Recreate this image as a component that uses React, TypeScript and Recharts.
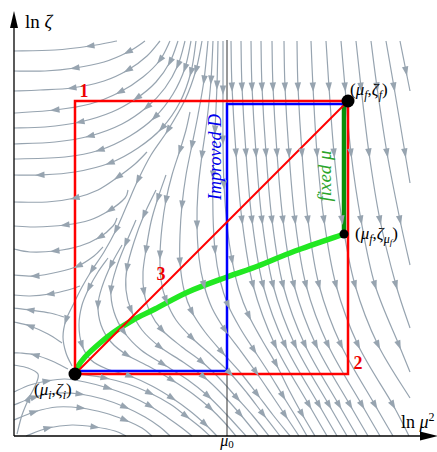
import React from 'react'
import { ComposedChart, Line, XAxis, YAxis } from 'recharts'

type Pt = [number, number]

// x: ln mu^2, y: ln zeta (arbitrary units)
const X_END = 437
const Y_END = 426
const MU0 = 227

const pointI: Pt = [75, 62]
const pointF: Pt = [348, 335]
const pointZetaMu: Pt = [344, 202]

const path1: Pt[] = [[75, 62], [75, 335], [348, 335]]
const path2: Pt[] = [[75, 62], [348, 62], [348, 335]]
const path3: Pt[] = [[75, 62], [348, 335]]
const improvedD: Pt[] = [[75, 65], [227, 65], [227, 332], [346, 332]]
const zetaMuLine: Pt[] = [[75, 62], [77, 68], [85, 79], [100, 93], [114, 104], [133, 116], [155, 127], [188, 144], [227, 159], [258, 170], [295, 185], [344, 202]]
const fixedMu: Pt[] = [[344, 202], [344, 333]]
const mu0Line: Pt[] = [[MU0, 0], [MU0, 396]]

// flow lines, top-left family (run to the left axis)
const streamsTop: Pt[][] = [
  [[117, 395], [90, 390], [55, 386], [14, 385]],
  [[145, 395], [128, 384], [104, 374], [75, 368], [45, 365], [14, 365]],
  [[160, 395], [147, 380], [128, 366], [104, 355], [72, 348], [40, 346], [14, 345]],
  [[170, 395], [160, 376], [143, 359], [120, 344], [90, 332], [55, 326], [14, 323]],
  [[178, 395], [170, 374], [156, 354], [137, 338], [112, 324], [80, 314], [45, 309], [14, 308]],
  [[185, 395], [178, 371], [165, 348], [147, 329], [122, 312], [90, 300], [55, 294], [14, 292]],
  [[191, 395], [185, 368], [173, 342], [155, 319], [130, 300], [100, 286], [65, 279], [14, 277]],
  [[196, 395], [191, 364], [180, 334], [162, 308], [138, 288], [110, 273], [75, 264], [40, 261], [14, 261]],
  // separatrix into the saddle
  [[202, 395], [196, 366], [185, 336], [168, 306], [151, 281], [138, 256], [127, 231], [116, 206], [104, 184], [92, 166], [82, 149], [74, 133], [66, 116], [63, 99], [66, 83], [72, 70]],
]

const streamsLeft: Pt[][] = [
  [[147, 284], [135, 272], [118, 259], [98, 246], [75, 238], [47, 234], [14, 234]],
  [[128, 246], [125, 238], [110, 226], [90, 216], [65, 211], [35, 209], [14, 210]],
  [[117, 218], [113, 210], [100, 199], [80, 190], [55, 185], [30, 184], [14, 187]],
  [[103, 189], [94, 180], [78, 170], [58, 164], [35, 160], [14, 161]],
  [[80, 150], [68, 146], [50, 142], [30, 140], [14, 141]],
  [[64, 119], [50, 123], [30, 126], [14, 128]],
  [[62, 93], [48, 102], [30, 110], [14, 114]],
  [[68, 67], [52, 75], [35, 81], [20, 83], [14, 83]],
]

const streamsBottom: Pt[][] = [
  [[17, 2], [22, 21], [29, 38], [36, 52], [38, 62], [28, 68], [14, 71]],
  [[14, 44], [30, 51], [47, 55], [65, 57], [85, 54], [108, 48], [130, 40], [150, 30], [168, 18], [182, 8], [192, 0]],
  [[14, 31], [35, 39], [57, 43], [80, 42], [103, 37], [125, 29], [145, 19], [160, 9], [170, 0]],
  [[14, 16], [34, 24], [57, 29], [81, 28], [105, 23], [125, 16], [142, 8], [152, 0]],
  [[26, 0], [48, 8], [72, 11], [95, 9], [115, 5], [126, 0]],
  [[78, 62], [105, 58], [128, 52], [150, 43], [170, 32], [186, 20], [200, 9], [210, 0]],
]

const streamsMiddle: Pt[][] = [
  [[108, 178], [98, 164], [89, 148], [82, 131], [79, 111], [82, 91], [91, 76], [107, 67], [130, 60], [152, 50], [172, 38], [190, 25], [205, 12], [217, 0]],
  [[122, 191], [111, 171], [102, 149], [98, 131], [101, 111], [111, 94], [127, 81], [150, 69], [172, 56], [193, 42], [210, 28], [224, 14], [236, 0]],
  [[136, 216], [126, 193], [117, 170], [111, 146], [114, 124], [124, 104], [141, 86], [163, 72], [188, 56], [208, 40], [226, 22], [246, 0]],
  [[156, 246], [144, 221], [134, 194], [127, 168], [126, 146], [131, 126], [142, 106], [160, 89], [183, 74], [204, 59], [222, 42], [240, 22], [258, 0]],
  [[166, 261], [158, 238], [151, 214], [146, 186], [143, 164], [144, 144], [150, 124], [162, 106], [182, 89], [202, 74], [220, 57], [237, 38], [253, 20], [269, 0]],
  [[190, 324], [186, 306], [180, 286], [172, 261], [166, 236], [162, 209], [160, 181], [161, 156], [166, 136], [176, 116], [192, 98], [211, 81], [230, 63], [247, 43], [263, 22], [280, 0]],
  [[208, 395], [204, 356], [198, 321], [192, 291], [186, 261], [182, 231], [180, 201], [180, 174], [184, 146], [192, 124], [205, 104], [222, 84], [240, 64], [257, 42], [273, 21], [290, 0]],
  [[213, 395], [211, 356], [207, 316], [202, 281], [198, 246], [197, 211], [199, 178], [204, 151], [212, 128], [225, 106], [240, 86], [256, 64], [271, 42], [285, 21], [299, 0]],
  [[218, 395], [217, 351], [215, 306], [213, 261], [213, 221], [215, 186], [220, 156], [228, 131], [240, 108], [254, 86], [269, 63], [283, 40], [296, 19], [307, 0]],
  [[223, 395], [223, 346], [223, 296], [224, 251], [227, 211], [232, 176], [239, 146], [249, 120], [262, 96], [276, 72], [289, 46], [302, 22], [315, 0]],
]

const streamsRight: Pt[][] = [
  [[231, 395], [232, 349], [236, 283], [242, 216], [253, 151], [275, 91], [309, 31], [327, 0]],
  [[241, 395], [242, 349], [246, 283], [252, 216], [263, 151], [285, 91], [319, 31], [337, 0]],
  [[251, 395], [252, 349], [256, 283], [262, 216], [273, 151], [295, 91], [329, 31], [347, 0]],
  [[261, 395], [262, 349], [266, 283], [272, 216], [283, 151], [305, 91], [339, 31], [357, 0]],
  [[272, 395], [273, 349], [277, 283], [283, 216], [294, 151], [316, 91], [350, 31], [368, 0]],
  [[284, 395], [285, 349], [289, 283], [295, 216], [306, 151], [328, 91], [362, 31], [380, 0]],
  [[297, 395], [298, 349], [302, 283], [308, 216], [319, 151], [341, 91], [375, 31], [393, 0]],
  [[311, 395], [313, 349], [317, 283], [324, 216], [336, 151], [358, 91], [393, 31], [409, 0]],
  [[326, 395], [329, 349], [334, 283], [342, 216], [355, 151], [378, 91], [410, 38]],
  [[341, 395], [345, 349], [351, 283], [361, 216], [375, 151], [399, 91], [410, 64]],
  [[356, 395], [361, 349], [369, 283], [380, 216], [396, 151], [410, 108]],
  [[371, 395], [377, 349], [387, 283], [400, 216], [410, 171]],
  [[386, 395], [394, 349], [405, 283], [410, 253]],
  [[400, 395], [406, 365], [410, 345]],
]

const GRAY = '#97a4b0'
const SERIF = "'Liberation Serif', 'Times New Roman', serif"

// Catmull-Rom curve through the points
const smooth: any = (ctx: any) => {
  let pts: number[][] = []
  return {
    areaStart() {},
    areaEnd() {},
    lineStart() { pts = [] },
    point(x: number, y: number) { pts.push([+x, +y]) },
    lineEnd() {
      const n = pts.length
      if (!n) return
      ctx.moveTo(pts[0][0], pts[0][1])
      for (let i = 0; i < n - 1; i++) {
        const p0 = pts[i > 0 ? i - 1 : 0]
        const p1 = pts[i]
        const p2 = pts[i + 1]
        const p3 = pts[i + 2 < n ? i + 2 : n - 1]
        ctx.bezierCurveTo(
          p1[0] + (p2[0] - p0[0]) / 6, p1[1] + (p2[1] - p0[1]) / 6,
          p2[0] - (p3[0] - p1[0]) / 6, p2[1] - (p3[1] - p1[1]) / 6,
          p2[0], p2[1])
      }
    },
  }
}

// arrowheads on some vertices, pointing along the flow
function withArrows(pts: Pt[]) {
  const out = pts.map(([x, y]) => ({ x, y, a: null as number | null }))
  let s = 0
  let last = -1e9
  for (let i = 1; i < pts.length - 1; i++) {
    s += Math.hypot(pts[i][0] - pts[i - 1][0], pts[i][1] - pts[i - 1][1])
    if (s >= 20 && s - last >= 42) {
      const dx = pts[i + 1][0] - pts[i - 1][0]
      const dy = pts[i + 1][1] - pts[i - 1][1]
      out[i].a = (Math.atan2(-dy, dx) * 180) / Math.PI
      last = s
    }
  }
  return out
}

const arrowDot = (p: any) => {
  const a = p.payload ? p.payload.a : null
  if (a == null) return <g key={'n' + p.index} />
  return (
    <path key={'a' + p.index} d="M5,0L-4.5,-3.2L-4.5,3.2Z" fill={GRAY}
      transform={`translate(${p.cx},${p.cy}) rotate(${a})`} />
  )
}

const toRows = (pts: Pt[]) => pts.map(([x, y]) => ({ x, y }))

const path = (key: string, pts: Pt[], color: string, width: number) => (
  <Line key={key} data={toRows(pts)} dataKey="y" type="linear" stroke={color} strokeWidth={width}
    dot={false} activeDot={false} isAnimationActive={false} strokeLinejoin="miter" />
)

const mark = (key: string, at: Pt, draw: (cx: number, cy: number) => React.ReactElement) => (
  <Line key={key} data={[{ x: at[0], y: at[1] }]} dataKey="y" stroke="none" activeDot={false}
    isAnimationActive={false} dot={(p: any) => <g key={key + p.index}>{draw(p.cx, p.cy)}</g>} />
)

const it = { fontStyle: 'italic' as const }

export default function App() {
  const streams = [...streamsTop, ...streamsLeft, ...streamsBottom, ...streamsMiddle, ...streamsRight]
  return (
    <div style={{ position: 'absolute', left: 0, top: 0, width: 437, height: 452, background: '#fff' }}>
      <ComposedChart width={437} height={452} margin={{ top: 10, right: 0, bottom: 16, left: 14 }}>
        <XAxis type="number" dataKey="x" domain={[14, X_END]} hide />
        <YAxis type="number" domain={[0, Y_END]} hide />
        {streams.map((s, i) => (
          <Line key={'s' + i} data={withArrows(s)} dataKey="y" type={smooth} stroke={GRAY} strokeWidth={1.2}
            dot={arrowDot} activeDot={false} isAnimationActive={false} />
        ))}
        {path('mu0', mu0Line, '#333', 1)}
        {path('yax', [[14, 0], [14, 410]], '#000', 1.3)}
        {path('xax', [[14, 0], [422, 0]], '#000', 1.3)}
        <Line data={toRows(zetaMuLine)} dataKey="y" type={smooth} stroke="#22e822" strokeWidth={5.5}
          dot={false} activeDot={false} isAnimationActive={false} />
        {path('fixed', fixedMu, '#0a8f0a', 4.5)}
        {path('blue', improvedD, '#0000ff', 2.5)}
        {path('p1', path1, '#ff0000', 2.5)}
        {path('p2', path2, '#ff0000', 2.5)}
        {path('p3', path3, '#ff0000', 2)}
        {mark('ytip', [14, 425], (cx, cy) => <path d={`M${cx},${cy}L${cx - 4},${cy + 17}L${cx + 4},${cy + 17}Z`} fill="#000" />)}
        {mark('xtip', [X_END, 0], (cx, cy) => <path d={`M${cx + 1},${cy}L${cx - 17},${cy - 4.5}L${cx - 17},${cy + 4.5}Z`} fill="#000" />)}
        {mark('dI', pointI, (cx, cy) => <circle cx={cx} cy={cy} r={6.5} fill="#000" />)}
        {mark('dF', pointF, (cx, cy) => <circle cx={cx} cy={cy} r={6.5} fill="#000" />)}
        {mark('dZ', pointZetaMu, (cx, cy) => <circle cx={cx} cy={cy} r={4.5} fill="#000" />)}
        {mark('lF', pointF, (cx, cy) => (
          <text x={cx + 2} y={cy - 6} fontFamily={SERIF} fontSize={17} fill="#000">
            (<tspan {...it}>μ</tspan><tspan {...it} fontSize={12} dy={4}>f</tspan><tspan dy={-4}>,</tspan>
            <tspan {...it}>ζ</tspan><tspan {...it} fontSize={12} dy={4}>f</tspan><tspan dy={-4}>)</tspan>
          </text>
        ))}
        {mark('lZ', pointZetaMu, (cx, cy) => (
          <text x={cx + 11} y={cy + 5} fontFamily={SERIF} fontSize={17} fill="#000">
            (<tspan {...it}>μ</tspan><tspan {...it} fontSize={12} dy={4}>f</tspan><tspan dy={-4}>,</tspan>
            <tspan {...it}>ζ</tspan><tspan {...it} fontSize={12} dy={4}>μ</tspan><tspan {...it} fontSize={9} dy={2}>f</tspan>
            <tspan dy={-6}>)</tspan>
          </text>
        ))}
        {mark('lI', pointI, (cx, cy) => (
          <text x={cx - 41} y={cy + 21} fontFamily={SERIF} fontSize={17} fill="#000">
            (<tspan {...it}>μ</tspan><tspan {...it} fontSize={12} dy={4}>i</tspan><tspan dy={-4}>,</tspan>
            <tspan {...it}>ζ</tspan><tspan {...it} fontSize={12} dy={4}>i</tspan><tspan dy={-4}>)</tspan>
          </text>
        ))}
        {mark('n1', [75, 335], (cx, cy) => (
          <text x={cx + 9} y={cy - 4} textAnchor="middle" fontFamily={SERIF} fontSize={18} fontWeight="bold" fill="#ee0000">1</text>
        ))}
        {mark('n2', [348, 62], (cx, cy) => (
          <text x={cx + 10} y={cy - 5} textAnchor="middle" fontFamily={SERIF} fontSize={18} fontWeight="bold" fill="#ee0000">2</text>
        ))}
        {mark('n3', [161, 148], (cx, cy) => (
          <text x={cx} y={cy - 8} textAnchor="middle" fontFamily={SERIF} fontSize={18} fontWeight="bold" fill="#ee0000">3</text>
        ))}
        {mark('tD', [MU0, 279], (cx, cy) => (
          <text x={cx - 6} y={cy} transform={`rotate(-90 ${cx - 6} ${cy})`} textAnchor="middle" fontFamily={SERIF}
            fontSize={18} fontStyle="italic" fill="#0000ee">Improved D</text>
        ))}
        {mark('tM', [344, 260], (cx, cy) => (
          <text x={cx - 13} y={cy} transform={`rotate(-90 ${cx - 13} ${cy})`} textAnchor="middle" fontFamily={SERIF}
            fontSize={19} fontStyle="italic" fill="#2ba52b">fixed μ</text>
        ))}
        {mark('tY', [14, 425], (cx, cy) => (
          <text x={cx + 11} y={cy + 17} fontFamily={SERIF} fontSize={19} fill="#000">ln <tspan {...it}>ζ</tspan></text>
        ))}
        {mark('tX', [X_END, 0], (cx, cy) => (
          <text x={cx - 36} y={cy - 8} fontFamily={SERIF} fontSize={18} fill="#000">
            ln <tspan {...it}>μ</tspan><tspan fontSize={12} dy={-7}>2</tspan>
          </text>
        ))}
        {mark('tMu0', [MU0, 0], (cx, cy) => (
          <text x={cx} y={cy + 10} textAnchor="middle" fontFamily={SERIF} fontSize={16} fill="#000">
            <tspan {...it}>μ</tspan><tspan fontSize={11} dy={2}>0</tspan>
          </text>
        ))}
      </ComposedChart>
    </div>
  )
}
